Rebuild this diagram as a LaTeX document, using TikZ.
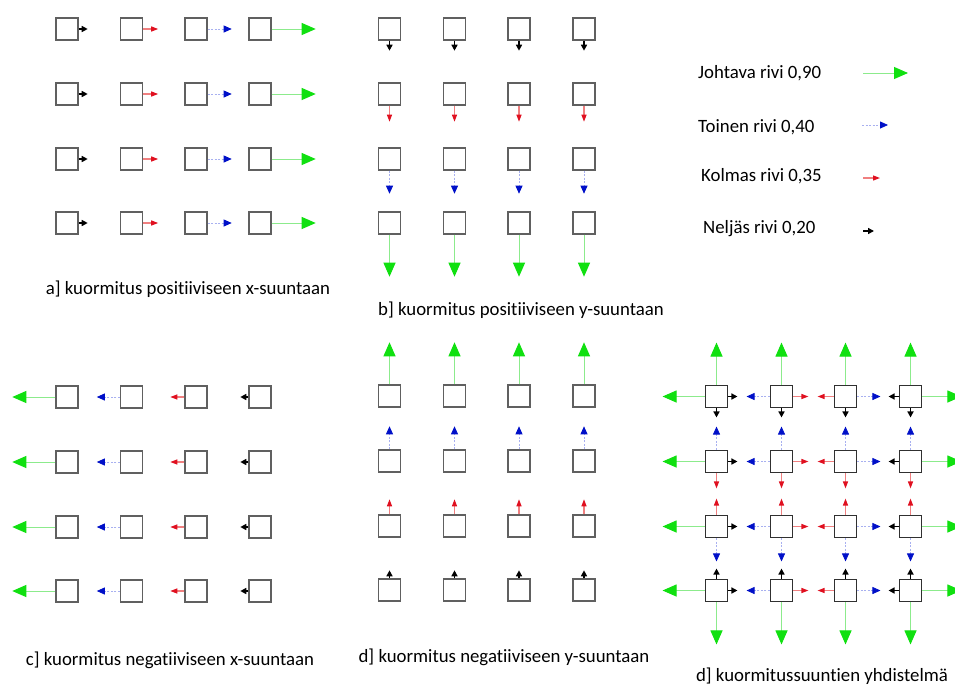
\documentclass[tikz,border=0pt]{standalone}
\usepackage{fontspec}
\setmainfont{Carlito}[Ligatures=NoCommon]
\usetikzlibrary{arrows.meta}
\definecolor{boxgray}{HTML}{606060}
\definecolor{boxdark}{HTML}{303030}
\definecolor{lgreen}{HTML}{8CEB8C}
\definecolor{hgreen}{HTML}{10E010}
\definecolor{lblue}{HTML}{A8B0F0}
\definecolor{hblue}{HTML}{0010C8}
\definecolor{lred}{HTML}{F08080}
\definecolor{hred}{HTML}{E01020}
\tikzset{
  box/.style={draw=boxgray, line width=1.4pt, minimum size=22pt, inner sep=0pt, fill=white},
  boxe/.style={box, draw=boxdark, line width=1.9pt},
  ga/.style={draw=lgreen, line width=1pt, -{Triangle[length=14pt,width=12pt,color=hgreen,fill=hgreen]}},
  ba/.style={draw=lblue, line width=0.8pt, dash pattern=on 2pt off 1.5pt, -{Triangle[length=8pt,width=7pt,color=hblue,fill=hblue]}},
  ra/.style={draw=lred, line width=1.2pt, -{Triangle[length=7pt,width=5pt,color=hred,fill=hred]}},
  ka/.style={draw=black, line width=1.8pt, -{Triangle[length=6pt,width=6pt,color=black,fill=black]}},
  captxt/.style={font=\fontsize{18.8}{22}\selectfont, inner sep=0pt, text=black},
  legtxt/.style={captxt, anchor=west}
}
\begin{document}
\begin{tikzpicture}[x=1pt,y=-1pt]
\clip (0,0) rectangle (955,686);
\fill[white] (0,0) rectangle (955,686);
% ---------- nodes ----------
\foreach \x [count=\c] in {67,131.5,196,260} {
  \foreach \y [count=\r] in {29,94,159,223} { \node[box] (a\r\c) at (\x,\y) {}; }
  \foreach \y [count=\r] in {397,462,527,591} { \node[box] (c\r\c) at (\x,\y) {}; }
}
\foreach \x [count=\c] in {389.5,454.5,519,584} {
  \foreach \y [count=\r] in {29,94,159,223} { \node[box] (b\r\c) at (\x,\y) {}; }
  \foreach \y [count=\r] in {396,461,526,590} { \node[box] (d\r\c) at (\x,\y) {}; }
}
\foreach \x [count=\c] in {716.5,781.5,845.5,910.5} {
  \foreach \y [count=\r] in {396.5,461.5,526.5,590.5} { \node[boxe] (e\r\c) at (\x,\y) {}; }
}
% ---------- a: positive x ----------
\foreach \r in {1,...,4} {
  \draw[ka] (a\r1.east) -- ++(9,0);
  \draw[ra] (a\r2.east) -- ++(15,0);
  \draw[ba] (a\r3.east) -- ++(24,0);
  \draw[ga] (a\r4.east) -- ++(44,0);
}
% ---------- b: positive y ----------
\foreach \c in {1,...,4} {
  \draw[ka] (b1\c.south) -- ++(0,10);
  \draw[ra] (b2\c.south) -- ++(0,16);
  \draw[ba] (b3\c.south) -- ++(0,23);
  \draw[ga] (b4\c.south) -- ++(0,42);
}
% ---------- c: negative x ----------
\foreach \r in {1,...,4} {
  \draw[ga] (c\r1.west) -- ++(-43,0);
  \draw[ba] (c\r2.west) -- ++(-23,0);
  \draw[ra] (c\r3.west) -- ++(-14,0);
  \draw[ka] (c\r4.west) -- ++(-8,0);
}
% ---------- d: negative y ----------
\foreach \c in {1,...,4} {
  \draw[ga] (d1\c.north) -- ++(0,-42);
  \draw[ba] (d2\c.north) -- ++(0,-23);
  \draw[ra] (d3\c.north) -- ++(0,-15);
  \draw[ka] (d4\c.north) -- ++(0,-8);
}
% ---------- e: combination ----------
\foreach \r in {1,...,4} {
  \foreach \c/\Ls/\Ll/\Rs/\Rl in {1/ga/42/ka/9, 2/ba/23/ra/15, 3/ra/16/ba/23, 4/ka/10/ga/39} {
    \draw[\Ls] (e\r\c.west) -- ++(-\Ll,0);
    \draw[\Rs] (e\r\c.east) -- ++(\Rl,0);
  }
}
\foreach \c in {1,...,4} {
  \foreach \r/\Us/\Ul/\Ds/\Dl in {1/ga/42/ka/9, 2/ba/23/ra/15, 3/ra/16/ba/23, 4/ka/10/ga/42} {
    \draw[\Us] (e\r\c.north) -- ++(0,-\Ul);
    \draw[\Ds] (e\r\c.south) -- ++(0,\Dl);
  }
}
% ---------- legend ----------
\node[legtxt] (l1) at (698,73) {Johtava rivi 0,90};
\node[legtxt] (l2) at (698,127) {Toinen rivi 0,40};
\node[legtxt] (l3) at (701,176) {Kolmas rivi 0,35};
\node[legtxt] (l4) at (703,229) {Neljäs rivi 0,20};
\coordinate (lg1) at (863,73);
\coordinate (lg2) at (862,125);
\coordinate (lg3) at (863,178);
\coordinate (lg4) at (863,231);
\draw[ga] (lg1) -- ++(45,0);
\draw[ba] (lg2) -- ++(26,0);
\draw[ra] (lg3) -- ++(17,0);
\draw[ka] (lg4) -- ++(11,0);
% ---------- captions ----------
\node[captxt] (capa) at (188,289) {a] kuormitus positiiviseen x-suuntaan};
\node[captxt] (capb) at (521,310) {b] kuormitus positiiviseen y-suuntaan};
\node[captxt] (capc) at (170,660) {c] kuormitus negatiiviseen x-suuntaan};
\node[captxt] (capd) at (504,657) {d] kuormitus negatiiviseen y-suuntaan};
\node[captxt] (cape) at (822,676) {d] kuormitussuuntien yhdistelmä};
\end{tikzpicture}
\end{document}
